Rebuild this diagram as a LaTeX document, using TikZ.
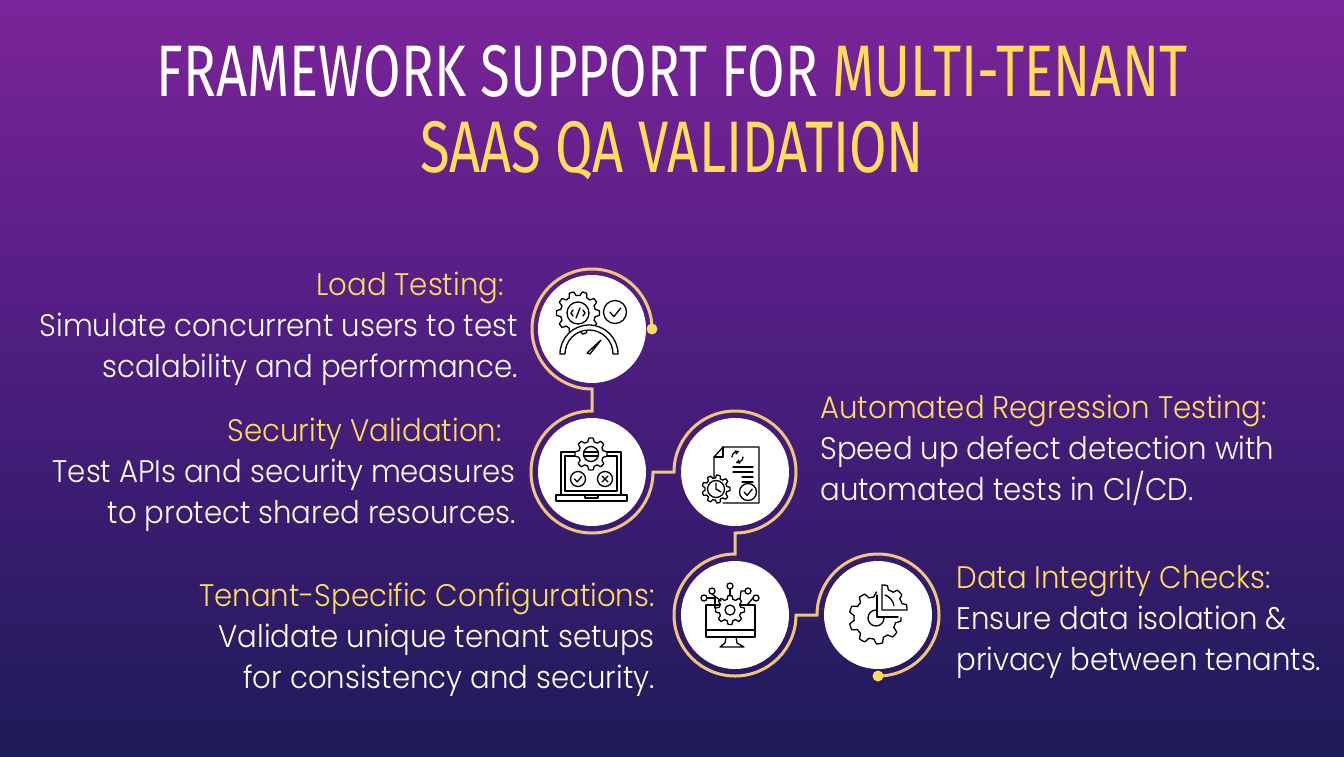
\documentclass[tikz,border=0pt]{standalone}
\usepackage{fontspec}
\setmainfont{Poppins}
\newfontfamily\titlefont[FakeStretch=0.745]{Fira Sans}
\newfontfamily\bodyfont[FakeStretch=0.935]{Poppins Light}
\usetikzlibrary{calc}
\definecolor{bgtop}{HTML}{7B2499}
\definecolor{bgmid}{HTML}{4A1D7E}
\definecolor{bgbot}{HTML}{1D1B58}
\definecolor{ringc}{HTML}{F0C67E}
\definecolor{hl}{HTML}{FFDC5C}
\tikzset{
  disc/.style={circle,fill=white,minimum size=54pt,inner sep=0pt,draw=none},
  ring/.style={draw=ringc,line width=1.5pt,line join=miter},
  dotn/.style={circle,fill=hl,minimum size=5.5pt,inner sep=0pt},
  icon/.style={draw=black,line width=0.65pt,line join=round,line cap=round,fill=none},
  ttl/.style={inner sep=0pt,text=white,font=\titlefont\fontsize{36.5}{36.5}\selectfont},
  blk/.style={inner sep=0pt,text=white,font=\bodyfont\fontsize{15.6}{20.5}\selectfont},
}
\newcommand{\gearshape}[6][white]{% fill, cx, cy, rout, rin, teeth
  \draw[icon,fill=#1] plot[domain=0:360,samples=#6*12+1,variable=\t]
   ({#2+(#5+(#4-#5)*min(1,max(0,1.6*cos(#6*\t)+0.5)))*cos(\t)},
    {#3+(#5+(#4-#5)*min(1,max(0,1.6*cos(#6*\t)+0.5)))*sin(\t)}) -- cycle;
}
\newcommand{\checkc}[3]{% cx cy r
  \draw[icon] (#1,#2) circle[radius=#3];
  \draw[icon] ({#1-0.45*#3},#2) -- ({#1-0.1*#3},{#2+0.4*#3}) -- ({#1+0.5*#3},{#2-0.35*#3});
}
\begin{document}
\begin{tikzpicture}[x=0.5pt,y=-0.5pt]
\useasboundingbox (0,0) rectangle (1344,756);
\shade[top color=bgtop,bottom color=bgmid] (0,0) rectangle (1344,378.5);
\shade[top color=bgmid,bottom color=bgbot] (0,378) rectangle (1344,756);
% title
\node[ttl] (t1) at (672,71) {FRAMEWORK SUPPORT FOR \textcolor{hl}{MULTI-TENANT}};
\node[ttl,text=hl] (t2) at (672,151) {SAAS QA VALIDATION};
% discs
\node[disc] (c1) at (592,329) {};
\node[disc] (c2) at (592,472) {};
\node[disc] (c3) at (735,472) {};
\node[disc] (c4) at (735,615) {};
\node[disc] (c5) at (878,615) {};
\coordinate (s1) at ($(c1)+(60,0)$);
\coordinate (e5) at ($(c5)+(0,61)$);
% ring
\draw[ring] (s1) arc[start angle=0,end angle=-270,radius=60]
  -- ($(c2)+(0,-61)$) arc[start angle=-90,end angle=-360,radius=61]
  -- ($(c3)+(-61,0)$) arc[start angle=180,end angle=450,radius=61]
  -- ($(c4)+(0,-61)$) arc[start angle=-90,end angle=-360,radius=61]
  -- ($(c5)+(-61,0)$) arc[start angle=180,end angle=450,radius=61];
\node[dotn] (d1) at (s1) {};
\node[dotn] (d2) at (e5) {};
% icon 1
\begin{scope}[shift={(c1)}]
  \gearshape{-14}{-16}{21.5}{17.5}{10}
  \draw[icon] (-14,-16) circle[radius=11];
  \draw[icon] (-19,-19) -- (-21,-16) -- (-19,-13) (-9,-19) -- (-7,-16) -- (-9,-13) (-12,-21) -- (-16,-11);
  \checkc{23}{-17}{11.5}
  \draw[icon,fill=white] (-32,25) arc[start angle=180,end angle=360,radius=29] -- (21,25) arc[start angle=360,end angle=180,radius=24] -- cycle;
  \draw[icon] (-5,24) -- (9,11) -- (-2,25) -- cycle;
\end{scope}
% icon 2
\begin{scope}[shift={(c2)}]
  \draw[icon] (-31,23) -- (-31,-20) -- (29,-20) -- (29,23);
  \draw[icon] (-27,19) -- (-27,-16) -- (25,-16) -- (25,19) -- cycle;
  \draw[icon] (-36,23) rectangle (35,29);
  \draw[icon] (-7,23) -- (-7,26) -- (6,26) -- (6,23);
  \gearshape{-1}{-18}{16}{12.5}{8}
  \draw[icon] (-1,-18) circle[radius=7.5];
  \draw[icon] (-8,-20) -- (6,-20) (-8,-16) -- (6,-16);
  \checkc{-14}{7}{7.5}
  \draw[icon] (13,7) circle[radius=7.5];
  \draw[icon] (10,4) -- (16,10) (16,4) -- (10,10);
\end{scope}
% icon 3
\begin{scope}[shift={(c3)}]
  \draw[icon] (-21,6) -- (-21,-15) -- (-12,-25) -- (24,-25) -- (24,31) -- (-12,31);
  \draw[icon] (-21,-15) -- (-12,-15) -- (-12,-25);
  \draw[icon] (-3,-15) arc[start angle=180,end angle=280,radius=5.5];
  \draw[icon] (8,-15) arc[start angle=0,end angle=100,radius=5.5];
  \draw[icon] (0,-21) -- (3,-20.5) -- (1,-18);
  \draw[icon] (5,-9) -- (2,-9.5) -- (4,-12);
  \draw[icon] (-2,-5) -- (18,-5) (-2,0) -- (18,0) (7,5) -- (18,5) (7,10) -- (18,10);
  \checkc{13}{20}{8.5}
  \gearshape{-19}{17}{14}{11}{9}
  \draw[icon] (-19,17) circle[radius=8.5];
  \draw[icon] (-19,11) -- (-19,17) -- (-14,20);
\end{scope}
% icon 4
\begin{scope}[shift={(c4)}]
  \draw[icon] (-29,-10) rectangle (20,22);
  \draw[icon] (-29,15) -- (20,15);
  \draw[icon] (-9,22) -- (-10,28) -- (-15,32) -- (9,32) -- (2,28) -- (1,22);
  \gearshape{-5}{-5}{14.5}{11}{8}
  \draw[icon] (-5,-5) circle[radius=5];
  \draw[icon] (-5,-26) -- (-5,-19);
  \draw[icon] (-5,-29) circle[radius=3];
  \draw[icon] (-23,-21) -- (-14,-14); \draw[icon] (-23,-24) circle[radius=3];
  \draw[icon] (-28,-17) -- (-20,-17) -- (-20,-7); \draw[icon] (-31,-17) circle[radius=3];
  \draw[icon] (10,-24) -- (6,-24) -- (5,-16); \draw[icon] (13,-24) circle[radius=3];
  \draw[icon] (18,-17) -- (12,-10) -- (9,-10); \draw[icon] (21,-17) circle[radius=3];
\end{scope}
% icon 5
\begin{scope}[shift={(c5)}]
  \gearshape{-3}{3}{26}{21}{9}
  \fill[white] (-1,-26) rectangle (30,2);
  \draw[icon] (-1,-20) -- (-1,2) -- (20,2);
  \draw[icon] (-2,-5) arc[start angle=-90,end angle=-360,radius=8];
  \draw[icon,fill=white] plot[domain=-90:0,samples=37,variable=\t]
    ({4+(21+4*min(1,max(0,1.6*cos(9*\t+45)+0.5)))*cos(\t)},
     {-5+(21+4*min(1,max(0,1.6*cos(9*\t+45)+0.5)))*sin(\t)}) -- (4,-5) -- cycle;
  \draw[icon] (7,-20) arc[start angle=-70,end angle=-10,radius=14];
\end{scope}
% texts
\node[blk,align=right,anchor=east] (b1) at (518,329) {\textcolor{hl}{Load Testing:\hspace{7pt}}\\Simulate concurrent users to test\\scalability and performance.\hspace{1.5pt}};
\node[blk,align=right,anchor=east] (b2) at (516,475) {\textcolor{hl}{Security Validation:\hspace{7pt}}\\Test APIs and security measures\\to protect shared resources.};
\node[blk,align=right,anchor=east] (b3) at (655,640) {\textcolor{hl}{Tenant-Specific Configurations:}\\Validate unique tenant setups\\for consistency and security.};
\node[blk,align=left,anchor=west] (b4) at (820,450) {\textcolor{hl}{Automated Regression Testing:}\\Speed up defect detection with\\automated tests in CI/CD.};
\node[blk,align=left,anchor=west] (b5) at (956,622) {\textcolor{hl}{Data Integrity Checks:}\\Ensure data isolation \&\\privacy between tenants.};
\end{tikzpicture}
\end{document}
